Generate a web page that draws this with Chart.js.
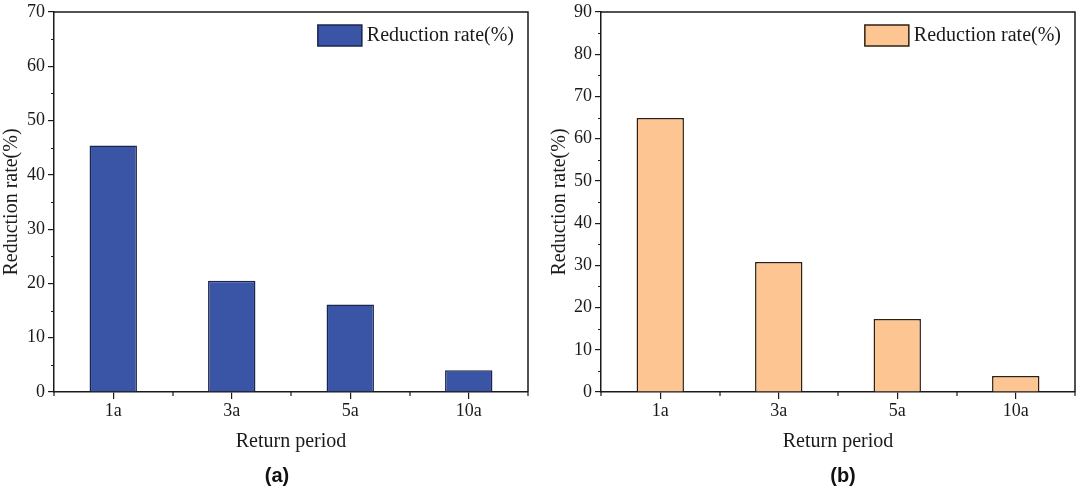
<!DOCTYPE html>
<html>
<head>
<meta charset="utf-8">
<script src="https://cdn.jsdelivr.net/npm/chart.js@4/dist/chart.umd.min.js"></script>
<style>
    html, body { margin: 0; padding: 0; background: #fff; }
    #wrap { position: relative; width: 1080px; height: 491px; overflow: hidden; }
    .box { position: absolute; top: 0; width: 540px; height: 491px; }
    .tag { position: absolute; width: 60px; text-align: center; font: bold 20px 'Liberation Sans', Arial, sans-serif; color: #111; }
</style>
</head>
<body>
<div id="wrap">
    <div class="box" style="left:0"><canvas id="chartA"></canvas></div>
    <div class="box" style="left:540px"><canvas id="chartB"></canvas></div>
    <div class="tag" style="left:247px; top:464px">(a)</div>
    <div class="tag" style="left:813px; top:464px">(b)</div>
</div>
<script>
// data
const categories = ['1a', '3a', '5a', '10a'];
const ratesA = [45.4, 20.5, 16.1, 4.0];
const ratesB = [64.9, 30.8, 17.3, 3.8];
const yMaxA = 70;
const yMaxB = 90;
const seriesLabel = 'Reduction rate(%)';
const xTitle = 'Return period';
const yTitle = 'Reduction rate(%)';

const serif = "'Liberation Serif', 'Times New Roman', serif";
const ink = '#1a1a1a';

// draws top/right frame, minor ticks and the legend box inside the plot
const framePlugin = {
    id: 'frame',
    afterDraw(chart) {
        const ctx = chart.ctx;
        const area = chart.chartArea;
        const x = chart.scales.x;
        const y = chart.scales.y;
        ctx.save();
        ctx.strokeStyle = ink;
        ctx.lineWidth = 1.5;
        ctx.beginPath();
        ctx.moveTo(area.left, area.top);
        ctx.lineTo(area.right, area.top);
        ctx.lineTo(area.right, area.bottom);
        ctx.stroke();

        // minor ticks
        ctx.lineWidth = 1.2;
        ctx.beginPath();
        for (let v = 5; v < y.max; v += 10) {
            const py = Math.round(y.getPixelForValue(v)) + 0.5;
            ctx.moveTo(area.left - 3, py);
            ctx.lineTo(area.left, py);
        }
        for (let i = 0; i <= categories.length; i++) {
            const px = Math.round(x.getPixelForValue(i - 0.5));
            ctx.moveTo(px, area.bottom);
            ctx.lineTo(px, area.bottom + 4);
        }
        ctx.stroke();

        // legend
        const ds = chart.data.datasets[0];
        ctx.font = '20px ' + serif;
        const w = ctx.measureText(ds.label).width;
        const textRight = area.right - 14;
        const textLeft = textRight - w;
        const boxRight = textLeft - 5;
        const boxLeft = boxRight - 44;
        const boxTop = area.top + 13;
        ctx.fillStyle = ds.backgroundColor;
        ctx.fillRect(boxLeft, boxTop, 44, 21);
        ctx.strokeStyle = ds.borderColor;
        ctx.lineWidth = 1.5;
        ctx.strokeRect(boxLeft, boxTop, 44, 21);
        ctx.fillStyle = ink;
        ctx.textBaseline = 'middle';
        ctx.textAlign = 'left';
        ctx.fillText(ds.label, textLeft, boxTop + 11);
        ctx.restore();
    }
};

function makeChart(id, values, yMax, fill, edge, yWidth, rightPad, yTitlePad) {
    const ctx = document.getElementById(id).getContext('2d');
    return new Chart(ctx, {
        type: 'bar',
        data: {
            labels: categories,
            datasets: [{
                label: seriesLabel,
                data: values,
                backgroundColor: fill,
                borderColor: edge,
                borderWidth: 1.5,
                barPercentage: 0.4,
                categoryPercentage: 1.0
            }]
        },
        options: {
            responsive: true,
            maintainAspectRatio: false,
            animation: false,
            layout: { padding: { top: 9, right: rightPad, left: 0, bottom: 0 } },
            plugins: {
                legend: { display: false },
                tooltip: { enabled: false }
            },
            scales: {
                x: {
                    afterFit: function(scale) { scale.height = 99; },
                    grid: {
                        offset: false,
                        drawOnChartArea: false,
                        drawTicks: true,
                        tickLength: 7,
                        color: ink,
                        lineWidth: 1.2
                    },
                    border: { display: true, color: ink, width: 1.5 },
                    ticks: {
                        color: ink,
                        padding: 3,
                        maxRotation: 0,
                        font: { family: serif, size: 18, lineHeight: 1.0 }
                    },
                    title: {
                        display: true,
                        text: xTitle,
                        color: ink,
                        padding: { top: 0, bottom: 37 },
                        font: { family: serif, size: 20 }
                    }
                },
                y: {
                    min: 0,
                    max: yMax,
                    afterFit: function(scale) { scale.width = yWidth; },
                    grid: {
                        drawOnChartArea: false,
                        drawTicks: true,
                        tickLength: 6,
                        color: ink,
                        lineWidth: 1.2
                    },
                    border: { display: true, color: ink, width: 1.5 },
                    ticks: {
                        stepSize: 10,
                        color: ink,
                        padding: 3,
                        font: { family: serif, size: 18, lineHeight: 1.0 }
                    },
                    title: {
                        display: true,
                        text: yTitle,
                        color: ink,
                        padding: { top: yTitlePad, bottom: 0 },
                        font: { family: serif, size: 20 }
                    }
                }
            }
        },
        plugins: [framePlugin]
    });
}

makeChart('chartA', ratesA, yMaxA, '#3a54a6', '#1c2550', 54, 12, 0);
makeChart('chartB', ratesB, yMaxB, '#fdc592', '#2e2114', 61, 5, 8);
</script>
</body>
</html>
